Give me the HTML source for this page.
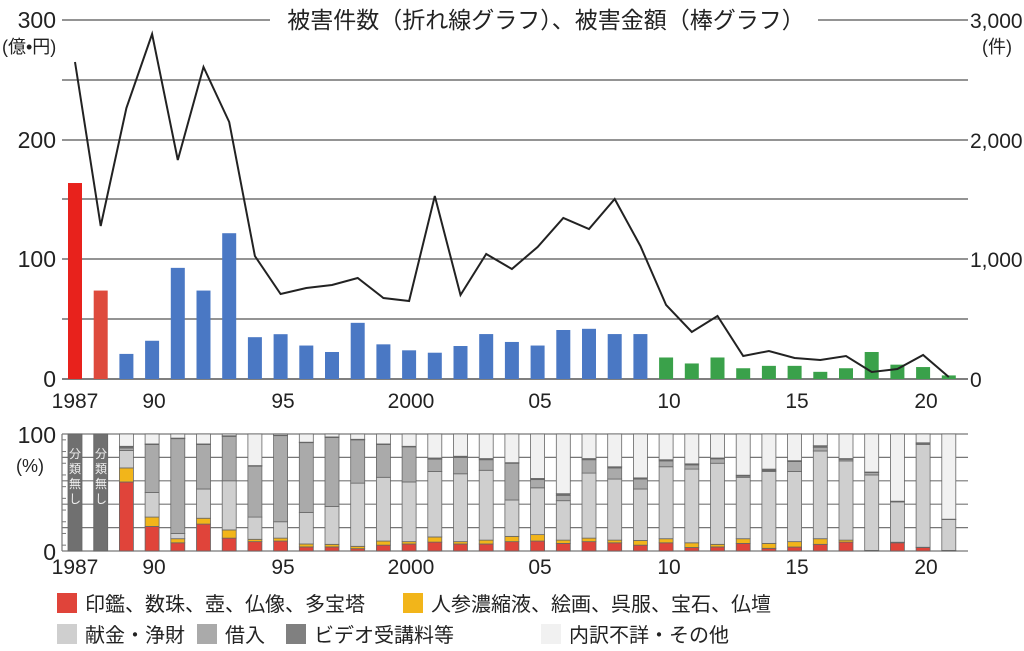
<!DOCTYPE html>
<html><head><meta charset="utf-8">
<style>
body{margin:0;background:#fff;width:1024px;height:651px;overflow:hidden;font-family:"Liberation Sans","Noto Sans CJK JP",sans-serif;color:#222}
svg{position:absolute;left:0;top:0}
text{font-family:"Liberation Sans","Noto Sans CJK JP",sans-serif;fill:#222}
</style></head><body>
<svg id="s" width="1024" height="651" viewBox="0 0 1024 651">
<g id="grid"></g>
<g id="bars"></g>
<g id="bot"></g>
<polyline id="line" fill="none" stroke="#222" stroke-width="2" points=""/>
<rect x="270" y="4" width="548" height="30" fill="#fff"/>
<text x="546" y="28" font-size="23" text-anchor="middle">被害件数（折れ線グラフ）、被害金額（棒グラフ）</text>
<g font-size="23" text-anchor="end">
<text x="56" y="28">300</text><text x="56" y="148">200</text><text x="56" y="267">100</text><text x="56" y="387">0</text>
<text x="56" y="443">100</text><text x="56" y="560">0</text>
</g>
<text x="2" y="53" font-size="18">(億•円)</text>
<text x="16" y="472" font-size="18">(%)</text>
<g font-size="21">
<text x="970" y="28">3,000</text><text x="970" y="148">2,000</text><text x="970" y="267">1,000</text><text x="970" y="387">0</text>
</g>
<text x="982" y="53" font-size="18">(件)</text>
<g font-size="21" text-anchor="middle">
<text x="75" y="408">1987</text><text x="154" y="408">90</text><text x="283" y="408">95</text><text x="411" y="408">2000</text><text x="540" y="408">05</text><text x="669" y="408">10</text><text x="797" y="408">15</text><text x="926" y="408">20</text>
<text x="75" y="574">1987</text><text x="154" y="574">90</text><text x="283" y="574">95</text><text x="411" y="574">2000</text><text x="540" y="574">05</text><text x="669" y="574">10</text><text x="797" y="574">15</text><text x="926" y="574">20</text>
</g>
<g font-size="12" text-anchor="middle">
<text x="75" y="458" style="fill:#eee">分</text><text x="75" y="473" style="fill:#eee">類</text><text x="75" y="488" style="fill:#eee">無</text><text x="75" y="503" style="fill:#eee">し</text>
<text x="101" y="458" style="fill:#eee">分</text><text x="101" y="473" style="fill:#eee">類</text><text x="101" y="488" style="fill:#eee">無</text><text x="101" y="503" style="fill:#eee">し</text>
</g>
<g font-size="20">
<rect x="57" y="593" width="20" height="20" fill="#e0443a"/><text x="85" y="611">印鑑、数珠、壺、仏像、多宝塔</text>
<rect x="403" y="593" width="20" height="20" fill="#f2b51a"/><text x="431" y="611">人参濃縮液、絵画、呉服、宝石、仏壇</text>
<rect x="57" y="624" width="20" height="20" fill="#cfcfcf"/><text x="85" y="642">献金・浄財</text>
<rect x="197" y="624" width="20" height="20" fill="#aaaaaa"/><text x="225" y="642">借入</text>
<rect x="286" y="624" width="20" height="20" fill="#808080"/><text x="314" y="642">ビデオ受講料等</text>
<rect x="541" y="624" width="20" height="20" fill="#f1f1f1"/><text x="569" y="642">内訳不詳・その他</text>
</g>
</svg>
<script>
var NS="http://www.w3.org/2000/svg";
function el(p,t,a){var e=document.createElementNS(NS,t);for(var k in a)e.setAttribute(k,a[k]);document.getElementById(p).appendChild(e);return e;}
function X(i){return 75+i*25.7;}
[20,80,140,199,259,319].forEach(function(y){el("grid","line",{x1:62,x2:968,y1:y,y2:y,stroke:"#555","stroke-width":1.2});});
el("grid","line",{x1:62,x2:968,y1:379,y2:379,stroke:"#555","stroke-width":1.5});
var amt=[164,74,21,32,93,74,122,35,37.5,28,22.6,47,29,24,22,27.6,37.6,31,28,41,42,37.6,37.6,18,13,18,9,11,11,6,9,22.6,12,10,3];
amt.forEach(function(v,i){var c=i==0?"#e8221c":i==1?"#de4a3c":i<23?"#4a78c4":"#3aa14a";var h=v*1.195;el("bars","rect",{x:X(i)-7,y:379-h,width:14,height:h,fill:c});});
var ly=[62,226,108,34,160,67,122,256,294,288,285,278,298,301,196,295,254,269,247,218,229,199,246,305,332,316,356,351,358,360,356,372,369,355,377];
document.getElementById("line").setAttribute("points",ly.map(function(y,i){return X(i)+","+y;}).join(" "));
for(var k=0;k<=5;k++){var y=434+k*23.4;el("bot","line",{x1:62,x2:968,y1:y,y2:y,stroke:"#777","stroke-width":1.2});}
el("bot","line",{x1:62,x2:62,y1:434,y2:551,stroke:"#777","stroke-width":1.2});
for(var k=0;k<10;k++){var y=434+k*11.7+5.85;el("bot","line",{x1:62,x2:66,y1:y,y2:y,stroke:"#777"});}
var cols=["#e0443a","#f2b51a","#cfcfcf","#aaaaaa","#707070","#f1f1f1"];
var P=[
[59,71,86,88,89.5],[21,29,50,91,91.5],[7,10.5,15,96,96.5],[23,28,53,91,91.5],[11,18,60,98,98.5],
[8,10,29,72.5,73],[8.5,11,25,98.6,99],[3.5,6,33,92.6,93],[3.5,5.7,38,97,97.5],[2,4,58,95,95.5],
[5,8.5,63,91,91.5],[6,8,59,89,89.5],[7.6,12,68,78.5,79.5],[6,8,66,80,81],[6,9.3,69,78,79],
[8,12.5,43.6,75,75.5],[8.5,14,54,61,62],[6.5,9.3,43,47.6,49],[8,11,66.6,78,79],[7,9.3,61.5,71,72],
[5,9,53,61.5,62.5],[7,10.5,72,77,78],[3,7,70,73.6,74.5],[3.5,5.7,75,78.8,79.5],[6.5,10.5,63,64,64.8],
[2.3,6.5,68,68.8,70],[3.4,8,68,76.5,77.2],[5.7,10.5,85.5,88.7,90],[7.6,9.3,77,78.4,79],[0.5,0.5,65,67,67.5],
[7,7.5,42,42.1,42.6],[3,3.2,91,92,92.5],[0.5,0.5,27,27,27.2]];
function rect(x,a,b,c){var y1=551-b*1.17,y0=551-a*1.17;if(y0-y1<=0)return;el("bot","rect",{x:x-7,y:y1,width:14,height:y0-y1,fill:c,stroke:"#666","stroke-width":0.8});}
rect(X(0),0,100,"#707070");rect(X(1),0,100,"#707070");
P.forEach(function(p,i){var x=X(i+2);var prev=0;var tops=p.concat([100]);tops.forEach(function(t,j){rect(x,prev,t,cols[j]);prev=t;});});
var s=document.getElementById("s");var g=s.querySelectorAll("g");
for(var i=3;i<g.length;i++)s.appendChild(g[i]);
</script>
</body></html>
